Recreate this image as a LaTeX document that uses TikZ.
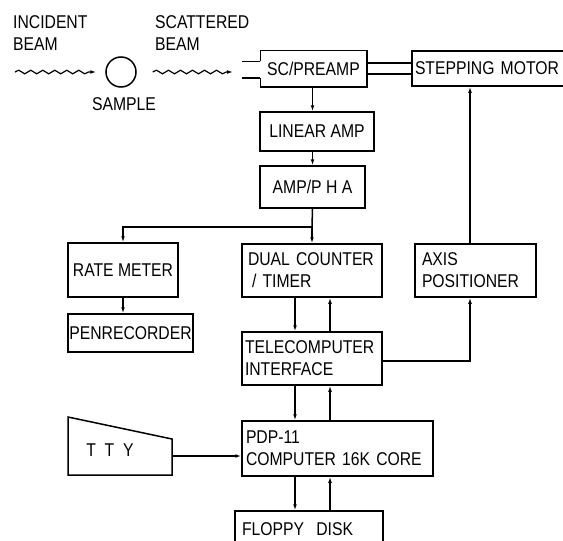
\documentclass[tikz,border=0pt]{standalone}
\usepackage{fontspec}
\newfontfamily\lettering[FakeStretch=0.85]{Liberation Sans}
\newcommand\letterfont{\lettering\fontsize{18.5pt}{22pt}\selectfont}
\usepackage{tikz}
\usetikzlibrary{arrows.meta,positioning,calc,decorations.pathmorphing}
\tikzset{
    block/.style={rectangle, draw, line width=1.5pt, align=center, font=\letterfont, inner sep=1pt},
    lblock/.style={block, align=left},
    link/.style={-{Latex[length=6pt,width=3.8pt]}, line width=1.5pt},
    wire/.style={line width=1.5pt},
    beam/.style={decorate, decoration={snake, amplitude=1.8pt, segment length=12pt, post length=6pt}, -{Latex[length=6pt,width=3.8pt]}, line width=1.2pt},
    caption/.style={font=\letterfont, align=left, inner sep=0pt},
}

\begin{document}
\begin{tikzpicture}[x=1pt, y=-1pt]
    \useasboundingbox (0,0) rectangle (563,541);
    \clip (0,0) rectangle (563,541);

    % beam and sample
    \node[caption, anchor=north west] (inclabel) at (13,15) {INCIDENT\\BEAM};
    \node[caption, anchor=north west] (scatlabel) at (155,15) {SCATTERED\\BEAM};
    \node[circle, draw, line width=1.5pt, minimum size=30pt, inner sep=0pt] (sample) at (121,72) {};
    \node[caption, below=10pt of sample, xshift=3pt] (samplelabel) {SAMPLE};
    \coordinate (incfrom) at (15,72);
    \coordinate (scatto) at (233,72);
    \draw[beam] (incfrom) -- ([xshift=-9pt]sample.west);
    \draw[beam] ([xshift=16pt]sample.east) -- (scatto);

    % detector chain
    \node[block, draw=none, minimum width=105pt, minimum height=35pt] (scpre) at (313.5,68.5) {SC/PREAMP};
    \draw[wire] (scpre.north west) ++(0,11) coordinate (slitA) -- (scpre.north west) -- (scpre.north east)
        -- (scpre.south east) -- (scpre.south west) -- ++(0,-9) coordinate (slitB);
    \draw[wire] (slitA) -- ++(-18,0);
    \draw[wire] (slitB) -- ++(-18,0);
    \node[lblock, text width=164pt, inner xsep=3pt, minimum height=35pt] (stepmotor) at (497,68.5) {STEPPING MOTOR};
    \node[block, minimum width=114pt, minimum height=39pt] (linamp) at (317,131.5) {LINEAR AMP};
    \node[block, minimum width=105pt, minimum height=42pt] (ampPHA) at (312.5,187) {AMP/P H A};
    \node[block, minimum width=110pt, minimum height=54pt] (ratemeter) at (123,270) {RATE METER};
    \node[block, minimum width=125pt, minimum height=38pt] (penrec) at (130.5,333) {PENRECORDER};
    \node[lblock, text width=128pt, inner xsep=6pt, minimum height=53pt] (dualct) at (312,270.5) {DUAL COUNTER\\\hspace*{4pt}/ TIMER};
    \node[lblock, text width=107pt, inner xsep=7pt, minimum height=53pt] (axis) at (475.5,270.5) {AXIS\\POSITIONER};
    \node[lblock, text width=134pt, inner xsep=3pt, minimum height=53pt] (tele) at (312,358.5) {TELECOMPUTER\\INTERFACE};
    \node[lblock, text width=183pt, inner xsep=4pt, minimum height=55pt] (pdp) at (337.5,448.5) {PDP-11\\COMPUTER 16K CORE};
    \node[lblock, text width=134pt, inner xsep=7pt, minimum height=36pt] (floppy) at (309,529) {FLOPPY\ \ DISK};

    % teletype
    \draw[wire] (68,417) -- (172,439) -- (172,475) -- (68,475) -- cycle;
    \node[font=\letterfont] (tty) at (110,450) {T\ \ T\ \ Y};
    \coordinate (ttyport) at (172,456);

    \coordinate (downx) at (295,0);
    \coordinate (upx) at (330,0);
    \coordinate (axisx) at (470,0);
    \coordinate (split) at (312,227);

    % connections
    \draw[wire] ([yshift=5.5pt]scpre.east) -- ([yshift=5.5pt]scpre.east -| stepmotor.west);
    \draw[wire] ([yshift=-5.5pt]scpre.east) -- ([yshift=-5.5pt]scpre.east -| stepmotor.west);
    \draw[link] (scpre.south -| ampPHA.north) -- (ampPHA.north |- linamp.north);
    \draw[link] (linamp.south -| ampPHA.north) -- (ampPHA.north);
    \draw[wire] (ampPHA.south) -- (split);
    \draw[link] (split) -- (dualct.north);
    \draw[link] (split) -| (ratemeter.north);
    \draw[link] (ratemeter.south) -- (ratemeter.south |- penrec.north);
    \draw[link] (downx |- dualct.south) -- (downx |- tele.north);
    \draw[link] (upx |- tele.north) -- (upx |- dualct.south);
    \draw[link] (downx |- tele.south) -- (downx |- pdp.north);
    \draw[link] (upx |- pdp.north) -- (upx |- tele.south);
    \draw[link] (downx |- pdp.south) -- (downx |- floppy.north);
    \draw[link] (upx |- floppy.north) -- (upx |- pdp.south);
    \draw[link] (ttyport) -- (ttyport -| pdp.west);
    \draw[link] ([yshift=-2.5pt]tele.east) -| (axisx |- axis.south);
    \draw[link] (axisx |- axis.north) -- (axisx |- stepmotor.south);
\end{tikzpicture}
\end{document}
